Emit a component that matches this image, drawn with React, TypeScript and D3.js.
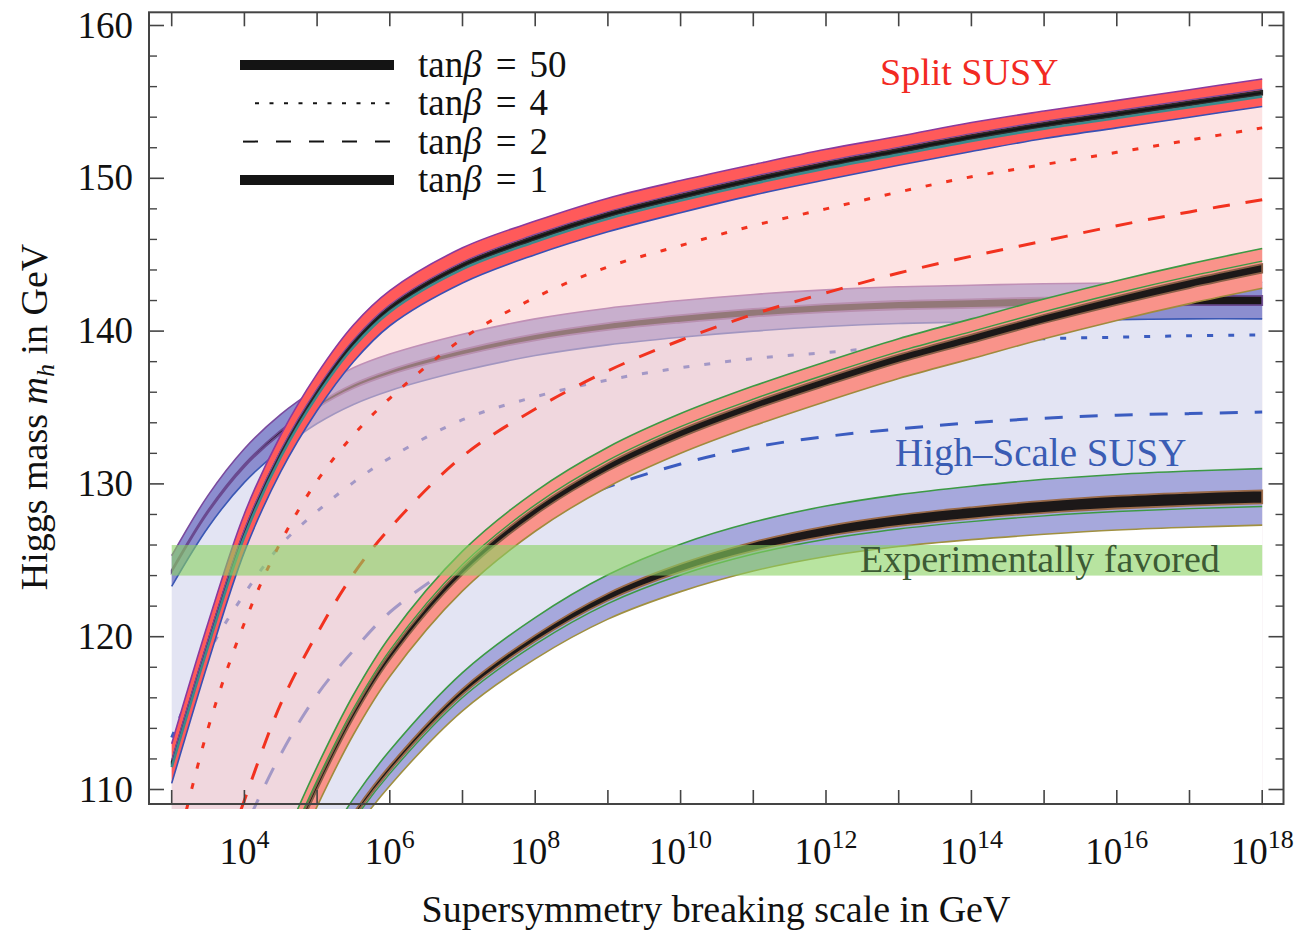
import React from "react";
import * as d3 from "d3";

const W = 1295;
const H = 934;

// ---------- data: log10(scale / GeV) and Higgs mass (GeV) ----------
const split50LogQ = [3, 3.5, 4, 4.5, 5, 5.5, 6, 7, 8, 9, 10, 11, 12, 13, 14, 15, 16, 17, 18];
const split50Mh = [111.7, 119.6, 126.8, 132.0, 136.0, 139.2, 141.5, 144.3, 146.1, 147.6, 148.8, 149.9, 150.9, 151.8, 152.7, 153.5, 154.2, 154.9, 155.6];
const split50Half = [1.3, 1.3, 1.25, 1.2, 1.2, 1.2, 1.15, 1.15, 1.1, 1.1, 1.05, 1.0, 1.0, 0.95, 0.95, 0.9, 0.9, 0.9, 0.9];
const split50Core = [0.12, 0.12, 0.12, 0.12, 0.12, 0.12, 0.12, 0.12, 0.13, 0.13, 0.13, 0.13, 0.13, 0.13, 0.13, 0.13, 0.13, 0.13, 0.13];

const split4LogQ = [3, 3.5, 4, 4.5, 5, 5.5, 6, 7, 8, 9, 10, 11, 12, 13, 14, 15, 16, 17, 18];
const split4Mh = [104.7, 114.0, 120.9, 126.2, 130.2, 133.2, 135.6, 139.5, 142.2, 144.2, 145.6, 146.9, 148.0, 149.1, 150.1, 150.9, 151.7, 152.5, 153.3];

const split2LogQ = [3.5, 4, 4.5, 5, 5.5, 6, 7, 8, 9, 10, 11, 12, 13, 14, 15, 16, 17, 18];
const split2Mh = [102.5, 109.3, 115.6, 120.2, 124.1, 127.1, 131.8, 134.9, 137.4, 139.4, 141.1, 142.5, 143.8, 144.9, 145.9, 146.9, 147.8, 148.6];

const split1LogQ = [4.5, 5, 5.5, 6, 7, 8, 9, 10, 11, 12, 13, 14, 15, 16, 17, 18];
const split1Mh = [104.9, 110.2, 114.9, 118.7, 124.3, 128.2, 131.1, 133.3, 135.1, 136.7, 138.2, 139.5, 140.8, 142.0, 143.1, 144.1];
const split1Half = [1.3, 1.3, 1.3, 1.3, 1.3, 1.3, 1.3, 1.3, 1.3, 1.3, 1.3, 1.3, 1.3, 1.3, 1.3, 1.3];
const split1Core = [0.2, 0.2, 0.2, 0.21, 0.22, 0.23, 0.24, 0.25, 0.25, 0.26, 0.26, 0.27, 0.27, 0.28, 0.28, 0.28];

const high50LogQ = [3, 3.5, 4, 4.5, 5, 5.5, 6, 7, 8, 9, 10, 11, 12, 13, 14, 15, 16, 17, 18];
const high50Mh = [124.3, 128.2, 131.2, 133.4, 135.1, 136.4, 137.3, 138.6, 139.6, 140.3, 140.8, 141.2, 141.5, 141.7, 141.8, 141.9, 141.95, 142.0, 142.0];
const high50Half = [1.0, 1.05, 1.1, 1.15, 1.15, 1.2, 1.2, 1.2, 1.2, 1.2, 1.2, 1.2, 1.2, 1.2, 1.2, 1.2, 1.2, 1.2, 1.2];
const high50Core = [0.06, 0.07, 0.08, 0.1, 0.12, 0.14, 0.15, 0.18, 0.2, 0.22, 0.24, 0.25, 0.26, 0.27, 0.28, 0.29, 0.3, 0.3, 0.3];

const high4LogQ = [3, 3.5, 4, 4.5, 5, 5.5, 6, 7, 8, 9, 10, 11, 12, 13, 14, 15, 16, 17, 18];
const high4Mh = [113.4, 118.9, 122.8, 126.0, 128.2, 130.1, 131.7, 134.2, 135.7, 136.8, 137.6, 138.2, 138.6, 139.0, 139.3, 139.5, 139.6, 139.7, 139.75];

const high2LogQ = [3.5, 4, 4.5, 5, 5.5, 6, 7, 8, 9, 10, 11, 12, 13, 14, 15, 16, 17, 18];
const high2Mh = [102.0, 107.4, 112.3, 116.2, 119.1, 121.6, 125.0, 127.8, 129.8, 131.3, 132.4, 133.1, 133.6, 134.0, 134.3, 134.5, 134.6, 134.7];

const high1LogQ = [5, 5.5, 6, 7, 8, 9, 10, 11, 12, 13, 14, 15, 16, 17, 18];
const high1Mh = [104.5, 108.3, 111.4, 116.4, 119.9, 122.6, 124.5, 125.9, 126.9, 127.6, 128.1, 128.5, 128.8, 129.0, 129.15];
const high1Half = [1.1, 1.1, 1.15, 1.25, 1.35, 1.45, 1.55, 1.6, 1.65, 1.7, 1.75, 1.8, 1.82, 1.84, 1.85];
const high1Core = [0.15, 0.15, 0.16, 0.18, 0.2, 0.23, 0.26, 0.29, 0.32, 0.35, 0.37, 0.39, 0.41, 0.42, 0.43];

const expBand = [124, 126];

const xTickExps = [3, 4, 5, 6, 7, 8, 9, 10, 11, 12, 13, 14, 15, 16, 17, 18];
const xLabelExps = [4, 6, 8, 10, 12, 14, 16, 18];
const yMajorTicks = [110, 120, 130, 140, 150, 160];
const yMinorTicks = [112, 114, 116, 118, 122, 124, 126, 128, 132, 134, 136, 138, 142, 144, 146, 148, 152, 154, 156, 158];

const legendItems = ["50", "4", "2", "1"];
const legendStyles = ["thick", "dotted", "dashed", "thick"];

// ---------- layout ----------
const frame = { left: 149, right: 1283.5, top: 12.3, bottom: 804 };
const x = d3.scaleLog().domain([1e3, 1e18]).range([171.7, 1262.2]);
const y = d3.scaleLinear().domain([110, 160]).range([789.5, 25.5]);
const X = (l: number) => x(Math.pow(10, l));

const FONT = "'Liberation Serif', 'Times New Roman', Times, serif";
const CURVE = d3.curveCatmullRom.alpha(0.5);

function linePath(lq: number[], mh: number[]) {
  const pts: [number, number][] = lq.map((l, i) => [X(l), y(mh[i])]);
  return d3.line().curve(CURVE)(pts) || "";
}
function offsetPath(lq: number[], mh: number[], off: number[], sign: number) {
  return linePath(lq, mh.map((m, i) => m + sign * off[i]));
}
function areaPath(lq: number[], lo: number[], hi: number[]) {
  const idx = d3.range(lq.length);
  return (
    d3
      .area<number>()
      .x((i) => X(lq[i]))
      .y0((i) => y(lo[i]))
      .y1((i) => y(hi[i]))
      .curve(CURVE)(idx) || ""
  );
}
function underPath(lq: number[], mh: number[]) {
  return areaPath(lq, lq.map(() => 95), mh);
}

function Band(props: {
  lq: number[];
  mh: number[];
  half: number[];
  core: number[];
  fill: string;
  topEdge: string;
  botEdge: string;
  coreFill: string;
  coreEdge: string;
  extra?: React.ReactNode;
}) {
  const { lq, mh, half, core } = props;
  const lo = mh.map((m, i) => m - half[i]);
  const hi = mh.map((m, i) => m + half[i]);
  const clo = mh.map((m, i) => m - core[i]);
  const chi = mh.map((m, i) => m + core[i]);
  return (
    <g>
      <path d={areaPath(lq, lo, hi)} fill={props.fill} />
      <path d={linePath(lq, hi)} fill="none" stroke={props.topEdge} strokeWidth={1.6} />
      <path d={linePath(lq, lo)} fill="none" stroke={props.botEdge} strokeWidth={1.6} />
      <path d={areaPath(lq, clo, chi)} fill={props.coreFill} stroke={props.coreEdge} strokeWidth={1.8} />
      {props.extra}
    </g>
  );
}

export default function App() {
  const RED = "#f2321f";
  const BLUE = "#3b5cc0";
  const clipH = 809 - frame.top;

  return (
    <div style={{ position: "absolute", left: 0, top: 0, width: W, height: H, background: "#fff" }}>
      <svg width={W} height={H} style={{ display: "block", fontFamily: FONT }}>
        <defs>
          <clipPath id="plotClip">
            <rect x={frame.left} y={frame.top} width={frame.right - frame.left} height={clipH} />
          </clipPath>
          <mask id="highMask" maskUnits="userSpaceOnUse" x={0} y={0} width={W} height={H}>
            <path d={underPath(high50LogQ, high50Mh)} fill="white" />
            <path d={underPath(high1LogQ, high1Mh)} fill="black" />
          </mask>
          <mask id="splitMask" maskUnits="userSpaceOnUse" x={0} y={0} width={W} height={H}>
            <path d={underPath(split50LogQ, split50Mh)} fill="white" />
            <path d={underPath(split1LogQ, split1Mh)} fill="black" />
          </mask>
        </defs>

        <g clipPath="url(#plotClip)">
          {/* High-scale SUSY region */}
          <rect x={0} y={0} width={W} height={H} fill="rgb(227,228,243)" mask="url(#highMask)" />
          <path d={linePath(high4LogQ, high4Mh)} fill="none" stroke={BLUE} strokeWidth={3} strokeDasharray="6 15" />
          <path d={linePath(high2LogQ, high2Mh)} fill="none" stroke={BLUE} strokeWidth={3} strokeDasharray="18 17" />
          <Band
            lq={high50LogQ}
            mh={high50Mh}
            half={high50Half}
            core={high50Core}
            fill="#8c8ecf"
            topEdge="#7a4a9e"
            botEdge="#3a58b4"
            coreFill="#1a1616"
            coreEdge="#6a4a90"
          />
          <Band
            lq={high1LogQ}
            mh={high1Mh}
            half={high1Half}
            core={high1Core}
            fill="#a6a8dc"
            topEdge="#3c9a44"
            botEdge="#a09040"
            coreFill="#1c1818"
            coreEdge="#9a6a48"
            extra={
              <path
                d={offsetPath(high1LogQ, high1Mh, high1Core.map((c) => c + 0.2), -1)}
                fill="none"
                stroke="#3c9a44"
                strokeWidth={1.4}
              />
            }
          />

          {/* Split SUSY region overlay */}
          <rect x={0} y={0} width={W} height={H} fill="rgb(251,203,203)" fillOpacity={0.54} mask="url(#splitMask)" />
          <path d={linePath(split4LogQ, split4Mh)} fill="none" stroke={RED} strokeWidth={3} strokeDasharray="6 15" />
          <path d={linePath(split2LogQ, split2Mh)} fill="none" stroke={RED} strokeWidth={3} strokeDasharray="17 16" />
          <Band
            lq={split1LogQ}
            mh={split1Mh}
            half={split1Half}
            core={split1Core}
            fill="#f9938a"
            topEdge="#3c9a44"
            botEdge="#a08a3c"
            coreFill="#1c1818"
            coreEdge="#8a6048"
            extra={
              <path
                d={offsetPath(split1LogQ, split1Mh, split1Core.map((c) => c + 0.2), 1)}
                fill="none"
                stroke="#3c9a44"
                strokeWidth={1.4}
              />
            }
          />
          <Band
            lq={split50LogQ}
            mh={split50Mh}
            half={split50Half}
            core={split50Core}
            fill="#ff5a5a"
            topEdge="#8a3a9e"
            botEdge="#3a50b4"
            coreFill="#141414"
            coreEdge="#2a2a2a"
            extra={
              <g>
                <path
                  d={offsetPath(split50LogQ, split50Mh, split50Core.map((c) => c + 0.12), -1)}
                  fill="none"
                  stroke="#3a8a8c"
                  strokeWidth={2.6}
                />
                <path
                  d={offsetPath(split50LogQ, split50Mh, split50Core.map((c) => c + 0.1), 1)}
                  fill="none"
                  stroke="#7a4a9e"
                  strokeWidth={1.2}
                />
              </g>
            }
          />

          {/* Experimentally favored band */}
          <rect
            x={X(3)}
            y={y(expBand[1])}
            width={X(18) - X(3)}
            height={y(expBand[0]) - y(expBand[1])}
            fill="rgb(137,210,97)"
            fillOpacity={0.6}
          />
        </g>

        {/* annotations */}
        <text x={880} y={85} fontSize={38} fill="#f22a22">
          Split SUSY
        </text>
        <text x={895} y={466} fontSize={39} fill="#3a5cb4">
          High–Scale SUSY
        </text>
        <text x={860} y={572} fontSize={38} fill="#3c5a34">
          Experimentally favored
        </text>

        {/* legend */}
        {legendItems.map((v, i) => {
          const ly = 65 + i * 38.3;
          const st = legendStyles[i];
          return (
            <g key={v + i}>
              {st === "thick" && <line x1={240} x2={394} y1={ly} y2={ly} stroke="#141414" strokeWidth={10} />}
              {st === "dotted" && (
                <line x1={255} x2={394} y1={ly} y2={ly} stroke="#141414" strokeWidth={2} strokeDasharray="4 10.5" />
              )}
              {st === "dashed" && (
                <line x1={243} x2={394} y1={ly} y2={ly} stroke="#141414" strokeWidth={2} strokeDasharray="15 18" />
              )}
              <text x={418} y={ly + 12} fontSize={37} fill="#111">
                tan<tspan fontStyle="italic">β</tspan>
                <tspan dx={14}>=</tspan>
                <tspan dx={13}>{v}</tspan>
              </text>
            </g>
          );
        })}

        {/* frame */}
        <rect
          x={frame.left}
          y={frame.top}
          width={frame.right - frame.left}
          height={frame.bottom - frame.top}
          fill="none"
          stroke="#444"
          strokeWidth={2}
        />

        {/* x ticks */}
        {xTickExps.map((e) => (
          <g key={"xt" + e} stroke="#444" strokeWidth={1.6}>
            <line x1={X(e)} x2={X(e)} y1={frame.bottom} y2={frame.bottom - 14} />
            <line x1={X(e)} x2={X(e)} y1={frame.top} y2={frame.top + 14} />
          </g>
        ))}
        {xLabelExps.map((e) => (
          <text key={"xl" + e} x={X(e)} y={864} textAnchor="middle" fontSize={37} fill="#111">
            10<tspan dy={-16} fontSize={26}>{e}</tspan>
          </text>
        ))}

        {/* y ticks */}
        {yMajorTicks.map((v) => (
          <g key={"ym" + v} stroke="#444" strokeWidth={1.6}>
            <line x1={frame.left} x2={frame.left + 15} y1={y(v)} y2={y(v)} />
            <line x1={frame.right} x2={frame.right - 15} y1={y(v)} y2={y(v)} />
          </g>
        ))}
        {yMinorTicks.map((v) => (
          <g key={"yn" + v} stroke="#444" strokeWidth={1.4}>
            <line x1={frame.left} x2={frame.left + 8} y1={y(v)} y2={y(v)} />
            <line x1={frame.right} x2={frame.right - 8} y1={y(v)} y2={y(v)} />
          </g>
        ))}
        {yMajorTicks.map((v) => (
          <text key={"yl" + v} x={133} y={y(v) + 12} textAnchor="end" fontSize={37} fill="#111">
            {v}
          </text>
        ))}

        {/* axis titles */}
        <text x={716} y={922} textAnchor="middle" fontSize={38} fill="#111">
          Supersymmetry breaking scale in GeV
        </text>
        <text transform="translate(47,417) rotate(-90)" textAnchor="middle" fontSize={38} fill="#111">
          Higgs mass <tspan fontStyle="italic">m</tspan>
          <tspan fontStyle="italic" fontSize={26} dy={7}>
            h
          </tspan>
          <tspan dy={-7}> in GeV</tspan>
        </text>
      </svg>
    </div>
  );
}
